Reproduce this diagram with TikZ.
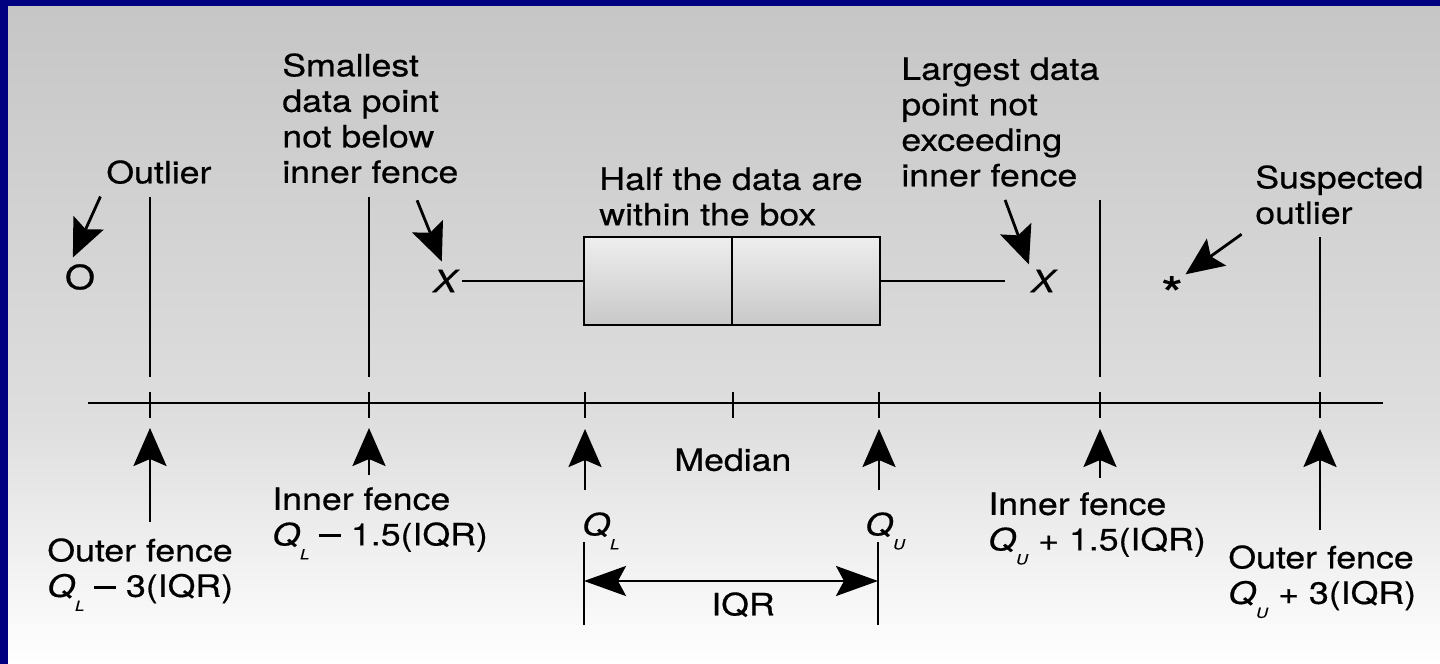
\documentclass[tikz,border=0pt]{standalone}
\usepackage{fontspec}
\setmainfont{TeX Gyre Heros}[FakeStretch=1.16, FakeBold=0.5]
\usepackage{tikz}
\usetikzlibrary{positioning, arrows.meta, calc}
\definecolor{navy}{RGB}{0,0,128}
\definecolor{bgtop}{RGB}{198,198,198}
\definecolor{bgmid}{RGB}{222,222,222}
\definecolor{boxtop}{RGB}{238,238,238}
\definecolor{boxbot}{RGB}{200,200,200}
\newcommand{\qsub}[1]{\textit{Q}\raisebox{-2.8mm}{\fontsize{8}{8}\selectfont\textit{#1}}}
\newcommand{\mns}{\raisebox{0.27em}{\rule{4.4mm}{1.5pt}}}
\tikzset{
  lbl/.style    ={anchor=north west, inner sep=0pt, align=left,
                  font=\fontsize{17.5}{20.2}\selectfont},
  pnt/.style    ={inner sep=0pt},
  ln/.style     ={line width=1.6pt},
  flow/.style   ={-{Stealth[length=7.6mm, width=6.6mm, inset=1.4mm]}, line width=1.6pt},
  dimflow/.style={{Stealth[length=8.4mm, width=6mm, inset=1.6mm]}-{Stealth[length=8.4mm, width=6mm, inset=1.6mm]},
                  line width=1.6pt},
}

\begin{document}
\begin{tikzpicture}[x=0.2mm, y=-0.2mm]
  \useasboundingbox (0,0) rectangle (1440,664);
  \fill[navy] (0,0) rectangle (1440,664);
  \shade[top color=bgtop, bottom color=bgmid] (8,7) rectangle (1440,420);
  \shade[top color=bgmid, bottom color=white] (8,420) rectangle (1440,664);

  \coordinate (A0) at (88,403);
  \coordinate (A1) at (1383,403);
  \draw[ln] (A0) -- (A1);
  \foreach \n/\x in {OL/150, IL/369, QL/585, M/733, QU/879, IU/1100, OU/1320}
    \coordinate (t\n) at (\x,403);
  \foreach \n in {OL, IL, QL, M, QU, IU, OU}
    \draw[ln] ([yshift=2.2mm]t\n) -- ([yshift=-3mm]t\n);
  \foreach \n/\y in {OL/197, IL/197, IU/200, OU/237}
    \draw[ln] (t\n |- 0,\y) -- (t\n |- 0,377);

  \node[draw, ln, top color=boxtop, bottom color=boxbot, minimum width=59.2mm, minimum height=17.6mm, inner sep=0pt] (B) at (732,281) {};
  \draw[ln] (B.north) -- (B.south);

  \node[pnt, font=\fontsize{19}{19}\selectfont] (O) at (80,277) {O};
  \node[pnt, font=\fontsize{17.5}{18}\selectfont\itshape] (XL) at (445,281) {X};
  \node[pnt, font=\fontsize{17.5}{18}\selectfont\itshape] (XR) at (1043,281) {X};
  \node[pnt, anchor=base, font=\fontsize{28}{28}\selectfont] (S) at (1172,312) {*};
  \draw[ln, shorten <=1mm] (XL.east) -- (B.west);
  \draw[ln, shorten >=5.2mm] (B.east) -- (XR.west);

  \node[lbl] (Out) at (106,160) {Outlier};
  \node[lbl] (Sm) at (282,53) {Smallest\\data point\\not below\\inner fence};
  \node[lbl] (Hf) at (599,167) {Half the data are\\within the box};
  \node[lbl] (Lg) at (901,57) {Largest data\\point not\\exceeding\\inner fence};
  \node[lbl] (Su) at (1255,165) {Suspected\\outlier};
  \node[lbl] (OFL) at (47,538) {Outer fence\\\qsub{L} \mns\ 3(IQR)};
  \node[lbl] (IFL) at (272,487) {Inner fence\\\qsub{L} \mns\ 1.5(IQR)};
  \node[lbl] (Med) at (674,448) {Median};
  \node[lbl] (QLl) at (582,512) {\qsub{L}};
  \node[lbl] (QUl) at (865,512) {\qsub{U}};
  \node[lbl, anchor=north] (IQ) at (743,592) {IQR};
  \node[lbl] (IFU) at (988,492) {Inner fence\\\qsub{U} + 1.5(IQR)};
  \node[lbl] (OFU) at (1228,545) {Outer fence\\\qsub{U} + 3(IQR)};

  \draw[flow, shorten <=2.7mm, shorten >=1.4mm] (Out.south west) -- ([xshift=-2mm]O.north);
  \draw[flow, shorten <=3.6mm, shorten >=1.7mm] ([xshift=8mm]Sm.south) -- (XL.north);
  \draw[flow, shorten <=2.75mm, shorten >=1.06mm] (Lg.south) -- (XR.north west);
  \draw[flow, shorten <=3.3mm, shorten >=0.5mm] (Su.south west) -- (S.north east);

  \draw[flow, shorten <=3.2mm] (OFL.north -| tOL) -- ([yshift=-5mm]tOL);
  \draw[flow, shorten <=2.4mm] (IFL.north -| tIL) -- ([yshift=-5mm]tIL);
  \draw[flow, shorten <=4.4mm] (QLl.north -| tQL) -- ([yshift=-5.2mm]tQL);
  \draw[flow, shorten <=4.4mm] (QUl.north -| tQU) -- ([yshift=-5.2mm]tQU);
  \draw[flow, shorten <=2.8mm] (IFU.north -| tIU) -- ([yshift=-5.2mm]tIU);
  \draw[flow, shorten <=3mm] (OFU.north -| tOU) -- ([yshift=-5.2mm]tOU);

  \coordinate (DL) at (584,581);
  \coordinate (DR) at (878,581);
  \draw[ln] ([yshift=7.8mm]DL) -- ([yshift=-8.8mm]DL);
  \draw[ln] ([yshift=7.8mm]DR) -- ([yshift=-8.8mm]DR);
  \draw[dimflow] (DL) -- (DR);
\end{tikzpicture}
\end{document}
